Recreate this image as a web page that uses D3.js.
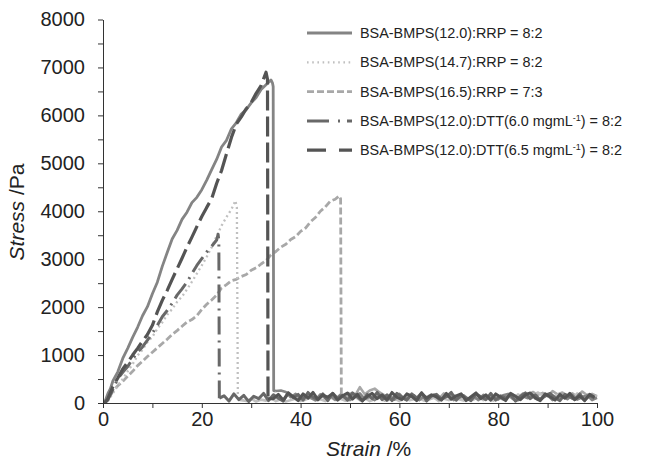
<!DOCTYPE html>
<html>
<head>
<meta charset="utf-8">
<script src="https://cdn.jsdelivr.net/npm/d3@7"></script>
<style>
  body { margin: 0; background: #fff; }
  svg { display: block; font-family: "Liberation Sans", Arial, sans-serif; }
</style>
</head>
<body>
<div id="chart"></div>
<script>
// ---- data (strain %, stress Pa) ----
const labels = [
  ['BSA-BMPS(12.0):RRP = 8:2'],
  ['BSA-BMPS(14.7):RRP = 8:2'],
  ['BSA-BMPS(16.5):RRP = 7:3'],
  ['BSA-BMPS(12.0):DTT(6.0 mgmL', '-1', ') = 8:2'],
  ['BSA-BMPS(12.0):DTT(6.5 mgmL', '-1', ') = 8:2']
];

// rising part + break
const strainRRP120 = [0, 0.5, 1, 1.5, 2, 3, 4, 5, 6, 7, 8, 9, 10, 11, 12, 13, 14, 15, 16, 17, 18, 19, 20, 21, 22, 23, 24, 25, 26, 27, 28, 29, 30, 31, 32, 33, 34, 34.3, 34.45, 34.55, 35];
const stressRRP120 = [0, 60, 200, 300, 460, 650, 930, 1140, 1370, 1580, 1820, 2010, 2280, 2520, 2850, 3140, 3420, 3600, 3830, 3980, 4180, 4290, 4450, 4650, 4870, 5080, 5340, 5480, 5720, 5850, 6030, 6120, 6260, 6370, 6540, 6640, 6740, 6680, 6600, 260, 250];

const strainRRP147 = [0, 0.5, 1, 2, 3, 4, 5, 6, 7, 8, 9, 10, 11, 12, 13, 14, 15, 16, 17, 18, 19, 20, 21, 22, 23, 24, 25, 26, 26.8, 27.1, 27.3];
const stressRRP147 = [0, 10, 50, 200, 370, 500, 660, 810, 990, 1110, 1270, 1380, 1550, 1680, 1840, 1960, 2110, 2220, 2370, 2530, 2700, 2870, 3050, 3250, 3480, 3700, 3880, 4040, 4220, 4080, 70];

const strainRRP165 = [0, 0.5, 1, 2, 3, 4, 5, 6, 7, 8, 9, 10, 11, 12, 13, 14, 15, 16, 17, 18, 19, 20, 21, 22, 23, 24, 25, 26, 27, 28, 29, 30, 31, 32, 33, 34, 35, 36, 37, 38, 39, 40, 41, 42, 43, 44, 45, 46, 47, 47.8, 48.1, 48.25];
const stressRRP165 = [0, 20, 60, 250, 360, 450, 560, 660, 780, 870, 970, 1060, 1150, 1240, 1330, 1430, 1510, 1600, 1690, 1740, 1820, 1950, 2060, 2150, 2250, 2400, 2470, 2550, 2580, 2640, 2680, 2770, 2820, 2900, 2970, 3090, 3160, 3250, 3310, 3410, 3470, 3580, 3650, 3780, 3870, 4000, 4090, 4210, 4250, 4320, 4260, 110];

const strainDTT60 = [0, 0.5, 1, 2, 3, 4, 5, 6, 7, 8, 9, 10, 11, 12, 13, 14, 15, 16, 17, 18, 19, 20, 21, 22, 23, 23.3, 23.45, 23.55];
const stressDTT60 = [0, 20, 70, 280, 510, 640, 760, 920, 1060, 1170, 1310, 1460, 1620, 1800, 1930, 2080, 2250, 2380, 2520, 2700, 2870, 3010, 3150, 3270, 3400, 3520, 3380, 100];

const strainDTT65 = [0, 0.5, 1, 2, 3, 4, 5, 6, 7, 8, 9, 10, 11, 12, 13, 14, 15, 16, 17, 18, 19, 20, 21, 22, 23, 24, 25, 26, 27, 28, 29, 30, 31, 32, 33, 33.3, 33.4];
const stressDTT65 = [0, 20, 90, 340, 520, 710, 850, 1000, 1140, 1290, 1430, 1620, 1900, 2140, 2350, 2580, 2800, 3020, 3250, 3460, 3680, 3890, 4080, 4260, 4580, 4850, 5200, 5540, 5820, 5970, 6140, 6270, 6460, 6620, 6900, 6750, 90];

// residual stress after the break, one reading per 1 % strain from tailStart
const tailStart = [36, 28, 49, 24.5, 34.5];
const tailRRP120 = [260, 230, 120, 190, 80, 160, 110, 60, 180, 100, 150, 70, 170, 110, 60, 160, 200, 80, 130, 60, 170, 90, 140, 70, 190, 80, 120, 160, 60, 140, 100, 170, 70, 120, 180, 60, 110, 160, 80, 140, 60, 170, 100, 130, 70, 160, 190, 80, 60, 140, 100, 170, 70, 120, 160, 60, 100, 150, 80, 170, 70, 120, 160, 60, 110];
const tailRRP147 = [60, 40, 90, 30, 70, 50, 100, 40, 80, 30, 60, 90, 40, 70, 110, 50, 80, 40, 120, 60, 90, 50, 70, 130, 60, 100, 40, 80, 110, 50, 70, 90, 40, 120, 60, 80, 100, 50, 70, 110, 40, 90, 60, 120, 80, 50, 100, 70, 130, 60, 90, 50, 110, 70, 140, 90, 180, 120, 200, 150, 220, 160, 190, 130, 170, 110, 150, 90, 200, 120, 180, 100, 150];
const tailRRP165 = [120, 200, 150, 330, 180, 260, 300, 220, 160, 110, 140, 90, 120, 170, 100, 130, 80, 150, 110, 90, 200, 120, 160, 100, 130, 90, 140, 110, 80, 120, 100, 150, 90, 130, 170, 120, 200, 150, 230, 170, 210, 140, 250, 180, 220, 150, 200, 130, 240, 160, 190, 140];
const tailDTT60 = [150, 40, 190, 70, 160, 30, 140, 90, 200, 50, 170, 100, 40, 210, 110, 180, 60, 220, 120, 70, 190, 50, 200, 100, 160, 60, 210, 130, 40, 180, 90, 220, 70, 170, 50, 200, 120, 60, 190, 100, 210, 40, 150, 180, 80, 130, 220, 60, 170, 100, 50, 190, 130, 70, 200, 60, 150, 100, 180, 40, 140, 210, 90, 170, 60, 150, 200, 110, 50, 180, 130, 70, 190, 60, 160, 100];
const tailDTT65 = [90, 180, 60, 210, 130, 50, 190, 100, 220, 70, 170, 120, 200, 60, 150, 210, 80, 180, 50, 140, 200, 90, 170, 60, 220, 120, 70, 190, 140, 50, 210, 100, 170, 130, 60, 200, 80, 150, 190, 50, 130, 210, 90, 170, 60, 190, 120, 50, 200, 140, 70, 170, 210, 100, 50, 190, 130, 60, 180, 100, 200, 70, 150, 50, 180, 120];

const xTicks = [0, 20, 40, 60, 80, 100];
const xMinor = [10, 30, 50, 70, 90];
const yTicks = [0, 1000, 2000, 3000, 4000, 5000, 6000, 7000, 8000];
const yMinor = [500, 1500, 2500, 3500, 4500, 5500, 6500, 7500];

// ---- styles ----
const colors = ['#848484', '#c0c0c0', '#a8a8a8', '#686868', '#545454'];
const widths = [2.8, 2.3, 2.8, 3, 3.2];
const dashes = [null, '2,3', '7,3', '18,6,2,6', '20,6'];
const legendDashes = [null, '1.6,3.6', '7,3', '22,9,2,7', '19,13'];

const width = 648, height = 459;
const margin = {left: 103, right: 51, top: 19.5, bottom: 56};

const x = d3.scaleLinear().domain([0, 100]).range([margin.left, width - margin.right]);
const y = d3.scaleLinear().domain([0, 8000]).range([height - margin.bottom, margin.top]);

function rise(strain, stress) {
  return strain.map((s, i) => [s, stress[i]]);
}
function tail(last, start, vals) {
  return [last].concat(vals.map((v, i) => [start + i, v]));
}

const rises = [
  rise(strainRRP120, stressRRP120),
  rise(strainRRP147, stressRRP147),
  rise(strainRRP165, stressRRP165),
  rise(strainDTT60, stressDTT60),
  rise(strainDTT65, stressDTT65)
];
const tailVals = [tailRRP120, tailRRP147, tailRRP165, tailDTT60, tailDTT65];
const tails = rises.map((r, k) => tail(r[r.length - 1], tailStart[k], tailVals[k]));

const svg = d3.select('#chart').append('svg')
  .attr('width', width)
  .attr('height', height);

svg.append('clipPath').attr('id', 'plot')
  .append('rect')
    .attr('x', x(0))
    .attr('y', 0)
    .attr('width', x(100) - x(0) + 2)
    .attr('height', y(0));

let line = d3.line()
  .x(d => x(d[0]))
  .y(d => y(d[1]));

let curves = svg.append('g').attr('clip-path', 'url(#plot)');

// light ones underneath, dark ones on top
[2, 1, 0, 3, 4].forEach(k => {
  curves.append('path')
    .datum(rises[k])
    .attr('d', line)
    .attr('fill', 'none')
    .attr('stroke', colors[k])
    .attr('stroke-width', widths[k])
    .attr('stroke-linejoin', 'round')
    .attr('stroke-dasharray', dashes[k]);
});
// noisy residue after break
[2, 1, 0, 3, 4].forEach(k => {
  curves.append('path')
    .datum(tails[k])
    .attr('d', line)
    .attr('fill', 'none')
    .attr('stroke', colors[k])
    .attr('stroke-width', k < 3 ? 2.6 : 3)
    .attr('stroke-linejoin', 'round');
});

// axes
svg.append('g')
  .attr('transform', `translate(0,${y(0)})`)
  .call(d3.axisBottom(x).tickValues(xTicks).tickSize(5).tickPadding(4).tickSizeOuter(0));
svg.append('g')
  .attr('transform', `translate(0,${y(0)})`)
  .call(d3.axisBottom(x).tickValues(xMinor).tickSize(5).tickFormat('').tickSizeOuter(0))
  .select('.domain').remove();

svg.append('g')
  .attr('transform', `translate(${x(0)},0)`)
  .call(d3.axisLeft(y).tickValues(yTicks).tickFormat(d3.format('d')).tickSize(5).tickPadding(13).tickSizeOuter(0));
svg.append('g')
  .attr('transform', `translate(${x(0)},0)`)
  .call(d3.axisLeft(y).tickValues(yMinor).tickSize(5).tickFormat('').tickSizeOuter(0))
  .select('.domain').remove();

svg.selectAll('.domain, .tick line').attr('stroke', '#333').attr('stroke-width', 1);
svg.selectAll('.tick text')
  .attr('fill', '#222')
  .style('font-size', '20px')
  .style('font-family', '"Liberation Sans", Arial, sans-serif');

// axis titles
let xt = svg.append('text')
  .attr('x', 326)
  .attr('y', 456)
  .attr('fill', '#222')
  .style('font-size', '21px');
xt.append('tspan').style('font-style', 'italic').text('Strain');
xt.append('tspan').text(' /%');

let yt = svg.append('text')
  .attr('transform', 'translate(24,212) rotate(-90)')
  .attr('text-anchor', 'middle')
  .attr('fill', '#222')
  .style('font-size', '21px');
yt.append('tspan').style('font-style', 'italic').text('Stress');
yt.append('tspan').text(' /Pa');

// legend
let legend = svg.append('g').attr('transform', 'translate(307,33)');
labels.forEach((parts, i) => {
  let row = legend.append('g').attr('transform', `translate(0,${i * 29.3})`);
  row.append('line')
    .attr('x1', 0).attr('x2', 45)
    .attr('stroke', colors[i])
    .attr('stroke-width', widths[i])
    .attr('stroke-dasharray', legendDashes[i]);
  let t = row.append('text')
    .attr('x', 53)
    .attr('y', 5)
    .attr('fill', '#222')
    .style('font-size', '14.4px');
  t.append('tspan').text(parts[0]);
  if (parts.length > 1) {
    t.append('tspan').attr('dy', -5).style('font-size', '9px').text(parts[1]);
    t.append('tspan').attr('dy', 5).text(parts[2]);
  }
});
</script>
</body>
</html>
